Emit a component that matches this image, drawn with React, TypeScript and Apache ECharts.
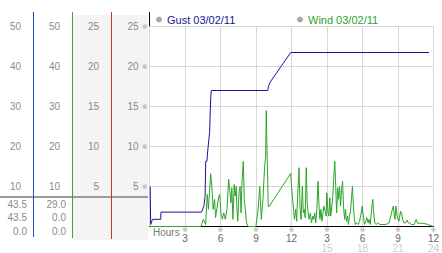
import React, { useEffect, useRef } from "react";
import * as echarts from "echarts";

const FONT = '"Liberation Sans", Arial, sans-serif';

// Gust series (hours since midnight, mph)
const gustHours = [0.06, 0.08, 0.1, 0.25, 0.95, 0.97, 4.4, 4.6, 4.7, 4.75, 4.85, 4.94, 5.08, 5.17, 5.22, 10.0, 10.05, 10.2, 11.94, 23.63];
const gustMph = [10, 10, 0.5, 1.8, 1.8, 3.6, 3.6, 5.1, 7.6, 16.3, 16.3, 19.5, 23.5, 31.8, 34, 34, 35, 36.1, 43.5, 43.5];

// Wind series (hours since midnight, mph)
const windHours = [
  0, 4.19, 4.34, 4.55, 4.75, 4.88, 4.98, 5.17, 5.27, 5.38, 5.5, 5.58, 5.71, 5.86, 5.94, 6.05, 6.16, 6.27, 6.41, 6.55,
  6.69, 6.77, 6.88, 6.96, 7.05, 7.16, 7.24, 7.33, 7.38, 7.46, 7.57, 7.66, 7.74, 7.82, 7.93, 8.01, 8.1, 8.2, 8.35, 8.99,
  9.18, 9.32, 9.45, 9.59, 9.73, 9.82, 9.87, 9.93, 9.98, 10.03, 10.09, 11.94, 12.0, 12.08, 12.17, 12.25, 12.36, 12.44, 12.52, 12.64,
  12.72, 12.81, 12.92, 13.0, 13.08, 13.16, 13.25, 13.33, 13.41, 13.5, 13.6, 13.69, 13.8, 13.89, 13.97, 14.05, 14.16, 14.24, 14.33, 14.41,
  14.49, 14.58, 14.66, 14.74, 14.85, 14.93, 14.99, 15.08, 15.16, 15.24, 15.32, 15.41, 15.49, 15.57, 15.66, 15.74, 15.82, 15.91, 15.99, 16.07,
  16.15, 16.24, 16.32, 16.4, 16.49, 16.57, 16.65, 16.74, 16.82, 16.9, 16.99, 17.07, 17.15, 17.24, 17.32, 17.4, 17.48, 17.65, 17.76, 17.87,
  17.98, 18.09, 18.17, 18.29, 18.37, 18.48, 18.56, 18.65, 18.87, 18.95, 19.04, 19.14, 19.3, 19.47, 19.73, 19.98, 20.25, 20.39, 20.53, 20.61,
  20.7, 20.75, 20.83, 20.95, 21.08, 21.22, 21.31, 21.39, 21.5, 21.64, 21.78, 21.86, 21.99, 22.13, 22.38, 22.54, 22.66, 22.88, 23.13, 23.55, 23.96,
];
const windMph = [
  0, 0, 0, 1.8, 0.5, 8, 4.3, 13.2, 10, 4.3, 6.8, 2.2, 4.7, 7.6, 8, 3, 1.8, 3.4, 1.8, 4.3,
  11.8, 9.3, 5.9, 9.7, 1.8, 10.5, 7.6, 10, 5.1, 1.3, 8.8, 10, 3.4, 11.3, 16.3, 6.8, 4.3, 0.9, 0, 0,
  4.3, 10, 1.8, 6.8, 15, 17.6, 29, 19.3, 13.4, 5.1, 4.9, 13.3, 10, 7.6, 4.3, 1.8, 4.3, 1.3, 7.6, 14.7,
  5.1, 1.8, 10, 3.4, 4.3, 2.2, 14.7, 5.9, 3.4, 1.8, 3.4, 0.9, 2.6, 1.8, 3.4, 0.9, 5.1, 11.3, 5.1, 1.8,
  4.3, 1.3, 3.4, 5.1, 3.8, 2.6, 8.4, 3.8, 2.6, 7.2, 2.6, 5.1, 7.2, 12.2, 16.3, 10, 3.4, 9.7, 6.8, 10,
  5.1, 9.3, 11.3, 5.1, 1.8, 4.3, 1.3, 2.6, 0.5, 2.6, 3.8, 6.8, 10, 5.1, 1.8, 0.5, 0.9, 0.5, 1.3, 3,
  5.1, 2.2, 0.5, 1.3, 2.2, 0.9, 1.8, 0.5, 6.8, 3.4, 0.9, 0.5, 0.9, 0.5, 0.5, 0.5, 0.9, 2.6, 4.3, 5.1,
  2.6, 1.8, 5.1, 2.2, 1.3, 3.8, 3.4, 1.8, 0.9, 0.9, 1.6, 0.9, 0.9, 0.5, 0.5, 1.8, 0.8, 0.8, 0.8, 0.5, 0,
];

// Summary values (max, current, min)
const gustStats = [43.5, 43.5, 0.0];
const windStats = [29.0, 0.0, 0.0];

// Tick labels
const hourLabels = ["3", "6", "9", "12", "3", "6", "9", "12"];
const hourLabels24 = ["", "", "", "", "15", "18", "21", "24"];
const seriesNames = ["Gust 03/02/11", "Wind 03/02/11"];

const GUST_COLOR = "#16169a";
const WIND_COLOR = "#2aa52a";
const LABEL_COLOR = "#8a8a8a";

export default function App() {
  const ref = useRef<HTMLDivElement>(null);

  useEffect(() => {
    if (!ref.current) return;
    const chart = echarts.init(ref.current, null, { renderer: "svg" });

    const leftAxis = (offset: number, max: number, interval: number, margin: number, extra?: any) => ({
      type: "value",
      position: "left",
      offset,
      min: 0,
      max,
      interval,
      axisLine: { show: false },
      axisTick: { show: false },
      splitLine: { show: false },
      axisLabel: {
        margin,
        showMinLabel: false,
        color: LABEL_COLOR,
        fontSize: 10,
        fontFamily: FONT,
        ...(extra || {}),
      },
    });

    const statText = (x: number, vals: number[]) =>
      vals.map((v, i) => ({
        type: "text",
        x,
        y: 204 + i * 13.5,
        style: {
          text: v.toFixed(1),
          fill: LABEL_COLOR,
          font: `10px ${FONT}`,
          align: "right",
          verticalAlign: "middle",
        },
      }));

    const vline = (x: number, y1: number, y2: number, color: string) => ({
      type: "line",
      shape: { x1: x, y1, x2: x, y2 },
      style: { stroke: color, lineWidth: 1 },
    });

    chart.setOption({
      animation: false,
      backgroundColor: "#fff",
      grid: { left: 149.5, top: 26.5, width: 290, height: 200 },
      legend: [
        {
          left: 156,
          top: 14,
          padding: 0,
          icon: "circle",
          itemWidth: 6,
          itemHeight: 6,
          selectedMode: false,
          textStyle: { fontSize: 11, fontFamily: FONT },
          data: [{ name: seriesNames[0], itemStyle: { color: "#a8a8a8" }, textStyle: { color: GUST_COLOR } }],
        },
        {
          left: 297,
          top: 14,
          padding: 0,
          icon: "circle",
          itemWidth: 6,
          itemHeight: 6,
          selectedMode: false,
          textStyle: { fontSize: 11, fontFamily: FONT },
          data: [{ name: seriesNames[1], itemStyle: { color: "#a8a8a8" }, textStyle: { color: WIND_COLOR } }],
        },
      ],
      xAxis: {
        type: "value",
        min: 0,
        max: 24,
        interval: 3,
        axisLine: { show: true, lineStyle: { color: "#000", width: 1 } },
        axisTick: { show: false },
        splitLine: { show: true, lineStyle: { color: "#d8d8d8", width: 1 } },
        axisLabel: {
          margin: 0,
          showMinLabel: false,
          formatter: (v: number) => {
            const i = Math.round(v / 3) - 1;
            if (i < 0) return "";
            const b = hourLabels24[i] || " ";
            return `{g|※}\n{a|${hourLabels[i]}}\n{b|${b}}`;
          },
          rich: {
            g: { fontSize: 7, lineHeight: 7, color: "#a0a0a0", fontFamily: '"DejaVu Sans"' },
            a: { fontSize: 10, lineHeight: 10, color: "#666", fontFamily: FONT },
            b: { fontSize: 10, lineHeight: 9, color: "#cdcdcd", fontFamily: FONT },
          },
        },
      },
      yAxis: [
        {
          type: "value",
          min: 0,
          max: 50,
          interval: 10,
          axisLine: { show: false },
          axisTick: { show: false },
          axisLabel: { show: false },
          splitLine: { show: true, lineStyle: { color: "#d8d8d8", width: 1 } },
        },
        leftAxis(116.5, 50, 10, 12),
        leftAxis(77.5, 50, 10, 12),
        leftAxis(38.5, 25, 5, 12),
        leftAxis(0, 25, 5, 2, {
          formatter: (v: number) => `{n|${v}}{g|※}`,
          rich: {
            n: { fontSize: 10, color: LABEL_COLOR, fontFamily: FONT },
            g: { fontSize: 7, color: "#a0a0a0", padding: [0, 0, 0, 3], fontFamily: '"DejaVu Sans"' },
          },
        }),
      ],
      series: [
        {
          name: seriesNames[1],
          type: "line",
          showSymbol: false,
          yAxisIndex: 0,
          lineStyle: { color: WIND_COLOR, width: 1 },
          itemStyle: { color: WIND_COLOR },
          data: windHours.map((h, i) => [h, windMph[i]]),
          z: 3,
        },
        {
          name: seriesNames[0],
          type: "line",
          showSymbol: false,
          yAxisIndex: 0,
          lineStyle: { color: GUST_COLOR, width: 1 },
          itemStyle: { color: GUST_COLOR },
          data: gustHours.map((h, i) => [h, gustMph[i]]),
          z: 4,
        },
      ],
      graphic: [
        { type: "rect", z: -10, shape: { x: 73, y: 15, width: 75, height: 225 }, style: { fill: "#f4f4f4" } },
        { type: "line", shape: { x1: 0, y1: 197, x2: 148, y2: 197 }, style: { stroke: "#9c9c9c", lineWidth: 2 } },
        vline(33.5, 12, 237, "#2848b8"),
        vline(72.5, 12, 238, "#38a838"),
        vline(111.5, 12, 239, "#c03434"),
        vline(149.5, 12, 227, "#000"),
        ...statText(27, gustStats),
        ...statText(66, windStats),
        {
          type: "text",
          x: 153,
          y: 232,
          style: { text: "Hours", fill: "#777", font: `10px ${FONT}`, verticalAlign: "middle" },
        },
      ],
    });

    return () => chart.dispose();
  }, []);

  return (
    <div
      ref={ref}
      style={{ position: "fixed", left: 0, top: 0, width: 442, height: 253, background: "#fff" }}
    />
  );
}
